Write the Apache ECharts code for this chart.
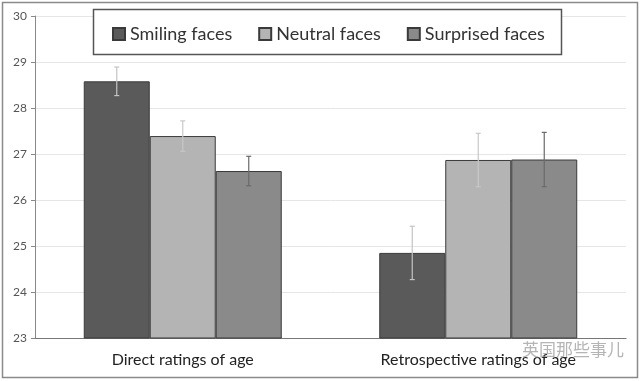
<!DOCTYPE html>
<html><head><meta charset="utf-8">
<script src="https://cdn.jsdelivr.net/npm/echarts@6/dist/echarts.min.js"></script>
<style>html,body{margin:0;padding:0;background:#fff}#c{width:640px;height:381px}</style>
</head><body><div id="c"></div>
<script>
const categories = ['Direct ratings of age', 'Retrospective ratings of age'];
const seriesNames = ['Smiling faces', 'Neutral faces', 'Surprised faces'];
const smiling = [28.58, 24.85];
const neutral = [27.39, 26.87];
const surprised = [26.63, 26.88];
const smilingErr = [0.31, 0.58];
const neutralErr = [0.33, 0.58];
const surprisedErr = [0.32, 0.59];
const yTicks = [23, 24, 25, 26, 27, 28, 29, 30];

const values = [smiling, neutral, surprised];
const errs = [smilingErr, neutralErr, surprisedErr];
const colors = ['#5a5a5a', '#b4b4b4', '#8a8a8a'];
const errColors = ['#c4c4c4', '#c8c8c8', '#6a6a6a'];
const gapRatio = 0.33;
const font = 'Lato';

const chart = echarts.init(document.getElementById('c'));
const series = [];
values.forEach((v, i) => {
  series.push({
    name: seriesNames[i], type: 'bar', data: v,
    barGap: '0%', barCategoryGap: (gapRatio * 100) + '%',
    itemStyle: { color: colors[i], borderColor: '#3a3a3a', borderWidth: 1 },
    z: 2
  });
});
values.forEach((v, i) => {
  series.push({
    type: 'custom', name: 'err' + i, silent: true, z: 5,
    data: v.map((val, k) => [k, val - errs[i][k], val + errs[i][k]]),
    renderItem: function (params, api) {
      const k = api.value(0);
      const lo = api.coord([k, api.value(1)]);
      const hi = api.coord([k, api.value(2)]);
      const band = api.size([1, 0])[0];
      const bw = band * (1 - gapRatio) / 3;
      const x = lo[0] + (i - 1) * bw;
      const cap = 2.5;
      const st = { stroke: errColors[i], lineWidth: 1.2 };
      return { type: 'group', children: [
        { type: 'line', shape: { x1: x, y1: lo[1], x2: x, y2: hi[1] }, style: st },
        { type: 'line', shape: { x1: x - cap, y1: lo[1], x2: x + cap, y2: lo[1] }, style: st },
        { type: 'line', shape: { x1: x - cap, y1: hi[1], x2: x + cap, y2: hi[1] }, style: st }
      ]};
    }
  });
});

chart.setOption({
  animation: false,
  backgroundColor: '#fff',
  textStyle: { fontFamily: font },
  grid: { left: 35, right: 14, top: 16, bottom: 43 },
  legend: {
    data: seriesNames, left: 107, top: 20, itemWidth: 12, itemHeight: 12, itemGap: 26,
    icon: 'rect', z: 30,
    textStyle: { fontSize: 18, color: '#333', fontFamily: font }
  },
  xAxis: {
    type: 'category', data: categories,
    axisLine: { lineStyle: { color: '#777', width: 1.2 } },
    axisTick: { show: false },
    axisLabel: { fontSize: 16, color: '#222', margin: 14, fontFamily: font }
  },
  yAxis: {
    type: 'value', min: yTicks[0], max: yTicks[yTicks.length - 1], interval: 1,
    axisLine: { show: true, lineStyle: { color: '#888' } },
    axisTick: { show: true, length: 4, lineStyle: { color: '#888' } },
    axisLabel: { fontSize: 12, color: '#555', margin: 8, fontFamily: font },
    splitLine: { lineStyle: { color: '#e6e6e6' } }
  },
  graphic: [
    { type: 'rect', shape: { x: 2.5, y: 2.5, width: 635, height: 375 }, style: { fill: 'none', stroke: '#8a8a8a', lineWidth: 1.5 }, z: 0 },
    { type: 'rect', shape: { x: 93.5, y: 9.5, width: 468, height: 45 }, style: { fill: '#fff', stroke: '#555', lineWidth: 1.5 }, z: 10 },
    { type: 'text', left: 522, top: 341, style: { text: '英国那些事儿', fontSize: 17, fill: 'rgba(150,150,150,0.7)', fontFamily: 'Noto Sans CJK SC' }, z: 20 }
  ],
  series: series
});
</script></body></html>
